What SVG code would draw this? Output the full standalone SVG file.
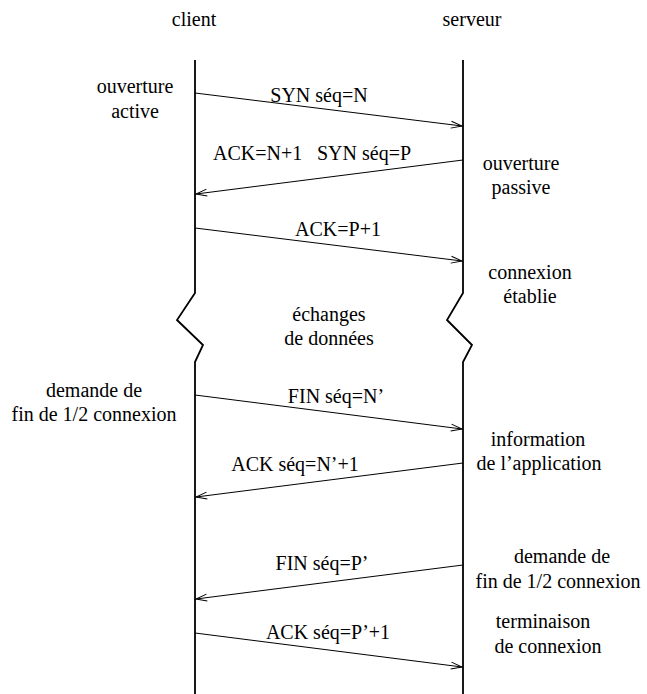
<svg xmlns="http://www.w3.org/2000/svg" width="647" height="694" viewBox="0 0 647 694">
<defs>
<style>
text{font-family:"Liberation Serif","Times New Roman",serif;font-size:20px;fill:#000}
.m{text-anchor:middle}
.life{fill:none;stroke:#000;stroke-width:1.8}
.msg{fill:none;stroke:#000;stroke-width:1}
</style>
<marker id="ah" viewBox="-12 -5 14 10" markerWidth="14" markerHeight="10" refX="0" refY="0" orient="auto" markerUnits="userSpaceOnUse">
<path d="M-11,-3.5 L0,0 L-11,3.5" fill="none" stroke="#000" stroke-width="1"/>
</marker>
</defs>
<rect width="647" height="694" fill="#fff"/>
<g id="client">
<text class="m" x="194" y="26">client</text>
<path class="life" d="M195,60 L195,293 L177,320 L203,345 L195,362 L195,694"/>
</g>
<g id="serveur">
<text class="m" x="472" y="26">serveur</text>
<path class="life" d="M463,60 L463,293 L447,320 L472,345 L463,362 L463,694"/>
</g>
<g id="labels">
<text class="m" x="135" y="93">ouverture</text>
<text class="m" x="135" y="118">active</text>
<text class="m" x="521" y="170">ouverture</text>
<text class="m" x="521" y="194">passive</text>
<text class="m" x="530" y="279">connexion</text>
<text class="m" x="530" y="303">établie</text>
<text class="m" x="329" y="321">échanges</text>
<text class="m" x="329" y="345">de données</text>
<text class="m" x="94" y="397">demande de</text>
<text class="m" x="94" y="421">fin de 1/2 connexion</text>
<text class="m" x="538" y="446">information</text>
<text class="m" x="539" y="470">de l’application</text>
<text class="m" x="562" y="563">demande de</text>
<text class="m" x="558" y="588">fin de 1/2 connexion</text>
<text class="m" x="543" y="628">terminaison</text>
<text class="m" x="548" y="653">de connexion</text>
</g>
<g id="connectors">
<line class="msg" x1="195" y1="93" x2="462" y2="126" marker-end="url(#ah)"/>
<line class="msg" x1="463" y1="160" x2="196" y2="194" marker-end="url(#ah)"/>
<line class="msg" x1="195" y1="228" x2="462" y2="261" marker-end="url(#ah)"/>
<line class="msg" x1="195" y1="395" x2="462" y2="429" marker-end="url(#ah)"/>
<line class="msg" x1="463" y1="463" x2="196" y2="497" marker-end="url(#ah)"/>
<line class="msg" x1="463" y1="565" x2="196" y2="599" marker-end="url(#ah)"/>
<line class="msg" x1="195" y1="633" x2="462" y2="667" marker-end="url(#ah)"/>
<text class="m" x="319" y="102">SYN séq=N</text>
<text x="213" y="160">ACK=N+1</text>
<text x="317" y="160">SYN séq=P</text>
<text class="m" x="338" y="236">ACK=P+1</text>
<text class="m" x="336" y="403">FIN séq=N’</text>
<text class="m" x="295" y="471">ACK séq=N’+1</text>
<text class="m" x="322" y="570">FIN séq=P’</text>
<text class="m" x="328" y="639">ACK séq=P’+1</text>
</g>
</svg>
